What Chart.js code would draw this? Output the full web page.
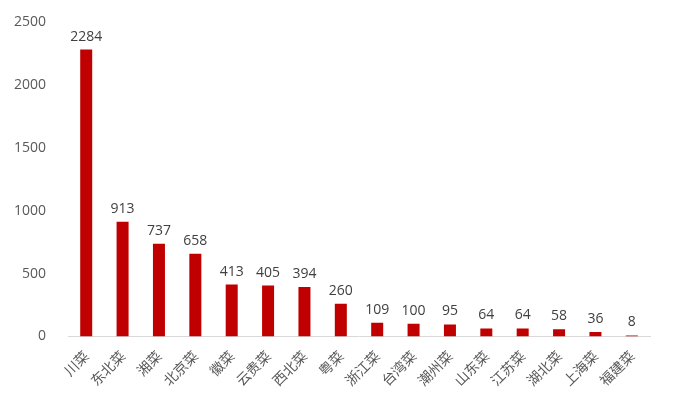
<!DOCTYPE html>
<html>
<head>
<meta charset="utf-8">
<script src="https://cdn.jsdelivr.net/npm/chart.js@4"></script>
<style>
  body { margin: 0; background: #fff; }
  #wrap { width: 700px; height: 406px; }
</style>
</head>
<body>
<div id="wrap"><canvas id="grafico"></canvas></div>
<script>
const categorias = ["川菜", "东北菜", "湘菜", "北京菜", "徽菜", "云贵菜", "西北菜", "粤菜", "浙江菜", "台湾菜", "潮州菜", "山东菜", "江苏菜", "湖北菜", "上海菜", "福建菜"];
const valores = [2284, 913, 737, 658, 413, 405, 394, 260, 109, 100, 95, 64, 64, 58, 36, 8];
const ticksY = [0, 500, 1000, 1500, 2000, 2500];

// Escreve o valor acima de cada barra
const rotulos = {
  id: "rotulos",
  afterDatasetsDraw(chart) {
    const ctx = chart.ctx;
    ctx.save();
    ctx.font = "14px 'Open Sans', sans-serif";
    ctx.fillStyle = "#404040";
    ctx.textAlign = "center";
    ctx.textBaseline = "bottom";
    chart.getDatasetMeta(0).data.forEach((bar, i) => {
      ctx.fillText(valores[i], bar.x, bar.y - 6);
    });
    ctx.restore();
  }
};

new Chart(document.getElementById("grafico"), {
  type: "bar",
  data: {
    labels: categorias,
    datasets: [{ data: valores, backgroundColor: "#c00000", barPercentage: 0.33, categoryPercentage: 1 }]
  },
  options: {
    responsive: true,
    maintainAspectRatio: false,
    animation: false,
    layout: { padding: { top: 20, right: 50, left: 0, bottom: 14 } },
    plugins: { legend: { display: false }, tooltip: { enabled: false } },
    scales: {
      x: {
        grid: { display: false },
        border: { color: "#d9d9d9" },
        ticks: { maxRotation: 45, minRotation: 45, color: "#595959", font: { size: 14, family: "'Noto Sans CJK SC', sans-serif" } }
      },
      y: {
        min: 0, max: 2500,
        afterBuildTicks: axis => { axis.ticks = ticksY.map(v => ({ value: v })); },
        grid: { display: false },
        border: { display: false },
        ticks: { color: "#595959", font: { size: 14, family: "'Open Sans', sans-serif" }, padding: 14, callback: v => String(v) }
      }
    }
  },
  plugins: [rotulos]
});
</script>
</body>
</html>
